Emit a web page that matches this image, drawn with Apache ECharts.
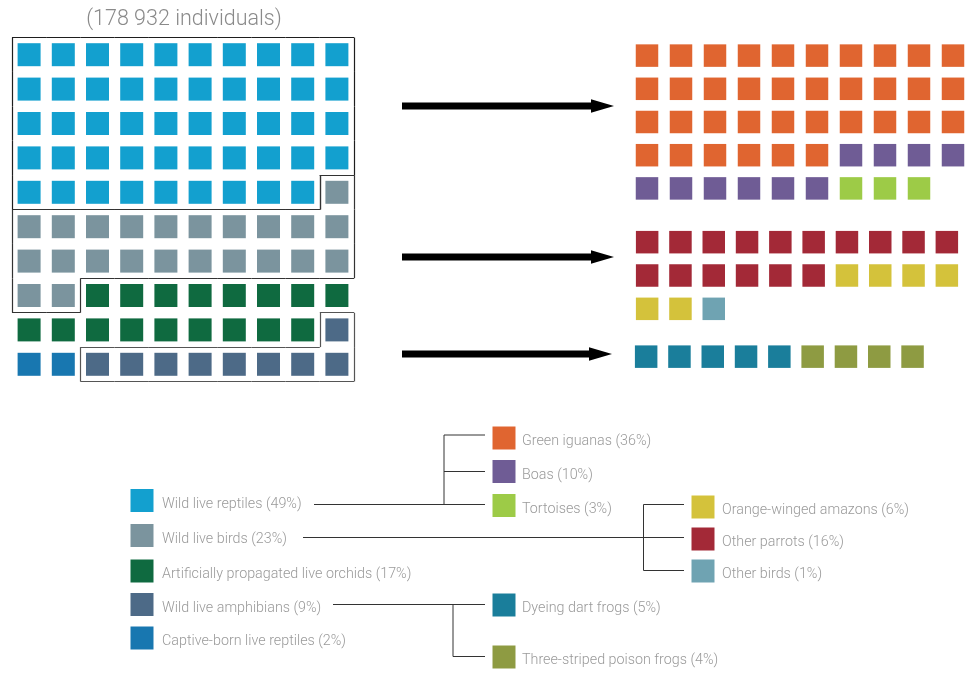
<!DOCTYPE html>
<html>
<head>
<meta charset="utf-8">
<script src="https://cdn.jsdelivr.net/npm/echarts@6/dist/echarts.min.js"></script>
<style>
html,body{margin:0;padding:0;background:#fff;}
#chart{width:970px;height:673px;}
</style>
</head>
<body>
<div id="chart"></div>
<script>
// ---------- DATA ----------
const titleText = '(178 932 individuals)';

// Left waffle: main groups (share of 100 squares)
const mainCategories = ['Wild live reptiles', 'Wild live birds', 'Artificially propagated live orchids', 'Wild live amphibians', 'Captive-born live reptiles'];
const mainShares = [49, 23, 17, 9, 2];
const mainColors = ['#13a0cf', '#7b949e', '#0f6a40', '#4d6a87', '#1877b0'];
// order in which the squares are laid out (category index, number of squares)
const leftFillCategory = [0, 1, 2, 3, 4, 3];
const leftFillCount = [49, 23, 17, 1, 2, 8];
// groups that get an outline in the left waffle
const outlinedGroups = [0, 1, 3];

// Right waffles: breakdowns
const reptileSubs = ['Green iguanas', 'Boas', 'Tortoises'];
const reptileSubShares = [36, 10, 3];
const reptileSubColors = ['#e06530', '#6f5c95', '#9dcb47'];

const birdSubs = ['Other parrots', 'Orange-winged amazons', 'Other birds'];
const birdSubShares = [16, 6, 1];
const birdSubColors = ['#a32937', '#d4c23b', '#6fa3b2'];
const birdLegendOrder = [1, 0, 2];

const amphSubs = ['Dyeing dart frogs', 'Three-striped poison frogs'];
const amphSubShares = [5, 4];
const amphSubColors = ['#1a7e9b', '#8e9b42'];

// ---------- BUILD ----------
const COLS = 10;
function cellsFromRuns(cats, counts) {
  const out = [];
  let idx = 0;
  cats.forEach((c, i) => {
    for (let k = 0; k < counts[i]; k++) {
      out.push({ cat: c, col: idx % COLS, row: Math.floor(idx / COLS) });
      idx++;
    }
  });
  return out;
}
function outlineSegments(cells, cat) {
  const set = new Set(cells.filter(c => c.cat === cat).map(c => c.col + ',' + c.row));
  const segs = [];
  cells.filter(c => c.cat === cat).forEach(c => {
    const x = c.col, y = c.row;
    if (!set.has(x + ',' + (y - 1))) segs.push([[x, y], [x + 1, y]]);
    if (!set.has(x + ',' + (y + 1))) segs.push([[x, y + 1], [x + 1, y + 1]]);
    if (!set.has((x - 1) + ',' + y)) segs.push([[x, y], [x, y + 1]]);
    if (!set.has((x + 1) + ',' + y)) segs.push([[x + 1, y], [x + 1, y + 1]]);
  });
  return segs;
}

const leftCells = cellsFromRuns(leftFillCategory, leftFillCount);
const topCells = cellsFromRuns([0, 1, 2], reptileSubShares);
const midCells = cellsFromRuns([0, 1, 2], birdSubShares);
const botCells = cellsFromRuns([0, 1], amphSubShares);

const grids = [
  { left: 12, top: 37.5, width: 342, height: 344 },
  { left: 630, top: 39, width: 340, height: 166 },
  { left: 630.5, top: 225.5, width: 333, height: 100 },
  { left: 629.5, top: 340, width: 333, height: 33.3 }
];
const rowsPerGrid = [10, 5, 3, 1];
const xAxes = grids.map((g, i) => ({ type: 'value', gridIndex: i, min: 0, max: COLS, show: false }));
const yAxes = grids.map((g, i) => ({ type: 'value', gridIndex: i, min: 0, max: rowsPerGrid[i], inverse: true, show: false }));

const series = [];
function addWaffle(cells, gridIdx, names, colors, size) {
  names.forEach((n, ci) => {
    series.push({
      type: 'scatter', name: n, xAxisIndex: gridIdx, yAxisIndex: gridIdx,
      symbol: 'rect', symbolSize: size, silent: true,
      itemStyle: { color: colors[ci], opacity: 1 },
      data: cells.filter(c => c.cat === ci).map(c => [c.col + 0.5, c.row + 0.5])
    });
  });
}
addWaffle(leftCells, 0, mainCategories, mainColors, 23);
addWaffle(topCells, 1, reptileSubs, reptileSubColors, 22.5);
addWaffle(midCells, 2, birdSubs, birdSubColors, 22.5);
addWaffle(botCells, 3, amphSubs, amphSubColors, 22.5);

const outlineColors = ['#1e1e1e', '#333333', '', '#555555'];
outlinedGroups.forEach(g => {
  series.push({
    type: 'lines', coordinateSystem: 'cartesian2d', xAxisIndex: 0, yAxisIndex: 0,
    silent: true, z: 5,
    lineStyle: { color: outlineColors[g], width: 1.2, opacity: 1 },
    data: outlineSegments(leftCells, g).map(s => ({ coords: s }))
  });
});

// ---------- GRAPHICS (arrows, legend tree) ----------
const FONT = "Roboto, 'Liberation Sans', sans-serif";
const TXT = '#9a9a9a';
const g = [];
g.push({ type: 'text', style: { text: titleText, x: 184, y: 20, align: 'center', verticalAlign: 'middle', font: "300 21.5px " + FONT, fill: '#8a8a8a' } });
function arrow(x1, x2, y) {
  g.push({ type: 'rect', shape: { x: x1, y: y - 3.4, width: x2 - 22 - x1, height: 6.8 }, style: { fill: '#000' } });
  g.push({ type: 'polygon', shape: { points: [[x2 - 23, y - 6.7], [x2, y], [x2 - 23, y + 6.7]] }, style: { fill: '#000' } });
}
arrow(402, 614, 106);
arrow(402, 614, 257);
arrow(402, 612, 354);

function legendItem(cx, cy, color, label, tx) {
  g.push({ type: 'rect', shape: { x: cx - 11.5, y: cy - 11.5, width: 23, height: 23 }, style: { fill: color } });
  g.push({ type: 'text', style: { text: label, x: tx, y: cy + 3.5, verticalAlign: 'middle', font: "300 14.3px " + FONT, fill: TXT } });
}
const leftLegendY = [500.5, 535.5, 571, 604.5, 638];
mainCategories.forEach((c, i) => legendItem(142, leftLegendY[i], mainColors[i], c + ' (' + mainShares[i] + '%)', 162));
const repY = [438, 471.5, 505.5];
reptileSubs.forEach((c, i) => legendItem(504, repY[i], reptileSubColors[i], c + ' (' + reptileSubShares[i] + '%)', 522));
const birdY = [507, 539, 571];
birdLegendOrder.forEach((k, i) => legendItem(703, birdY[i], birdSubColors[k], birdSubs[k] + ' (' + birdSubShares[k] + '%)', 722));
const amphY = [605, 657];
amphSubs.forEach((c, i) => legendItem(504, amphY[i], amphSubColors[i], c + ' (' + amphSubShares[i] + '%)', 522));

function seg(x1, y1, x2, y2) {
  g.push({ type: 'line', shape: { x1, y1, x2, y2 }, style: { stroke: '#333', lineWidth: 1 } });
}
// reptiles tree
seg(314, 504.5, 444, 504.5); seg(444, 435, 444, 504.5);
seg(444, 435, 485, 435); seg(444, 471.5, 485, 471.5); seg(444, 504.5, 485, 504.5);
// birds tree
seg(303, 537.5, 684, 537.5); seg(643.5, 504.5, 643.5, 570.5);
seg(643.5, 504.5, 684, 504.5); seg(643.5, 570.5, 684, 570.5);
// amphibians tree
seg(333, 604.5, 485, 604.5); seg(453, 604.5, 453, 656.5); seg(453, 656.5, 485, 656.5);

const chart = echarts.init(document.getElementById('chart'));
chart.setOption({
  animation: false,
  backgroundColor: '#ffffff',
  grid: grids,
  xAxis: xAxes,
  yAxis: yAxes,
  series: series,
  graphic: { elements: g }
});
</script>
</body>
</html>
